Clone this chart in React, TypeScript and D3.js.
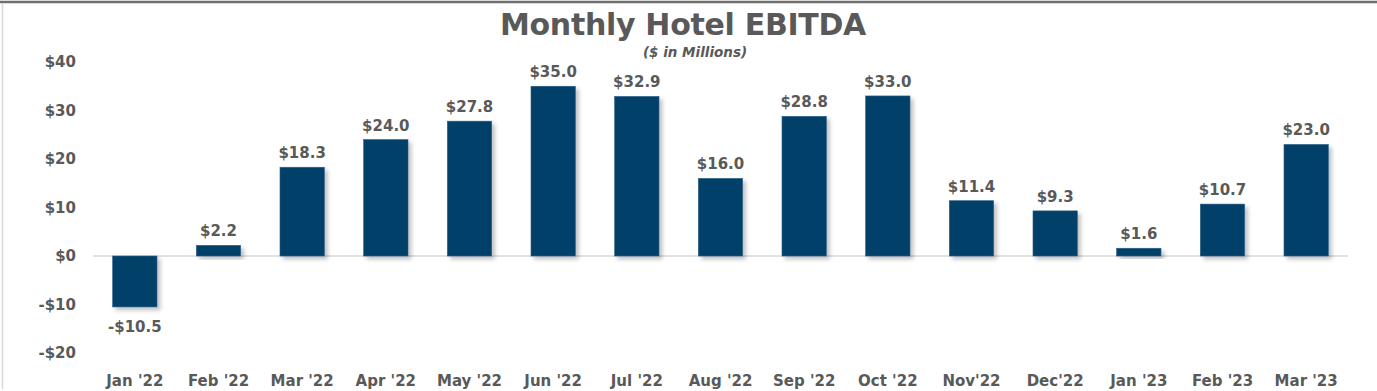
import React from "react";
import * as d3 from "d3";

const categories = ["Jan '22","Feb '22","Mar '22","Apr '22","May '22","Jun '22","Jul '22","Aug '22","Sep '22","Oct '22","Nov'22","Dec'22","Jan '23","Feb '23","Mar '23"];
const values = [-10.5, 2.2, 18.3, 24.0, 27.8, 35.0, 32.9, 16.0, 28.8, 33.0, 11.4, 9.3, 1.6, 10.7, 23.0];
const yTicks = [40, 30, 20, 10, 0, -10, -20];

const W = 1377, H = 391;
const FONT = "'DejaVu Sans', sans-serif";
const TXT = "#595959";
const BAR = "#003F69";

export default function App() {
  const x = d3.scaleBand<string>().domain(categories).range([93, 1348]).paddingInner(0.47).paddingOuter(0.235);
  const y = d3.scaleLinear().domain([-20, 40]).range([353, 62]);
  const fmtTick = (v: number) => (v < 0 ? "-$" + Math.abs(v) : "$" + v);
  const fmtVal = (v: number) => (v < 0 ? "-$" + Math.abs(v).toFixed(1) : "$" + v.toFixed(1));
  return (
    <svg width={W} height={H} style={{ position: "absolute", left: 0, top: 0, background: "#fff" }} fontFamily={FONT}>
      <defs>
        <filter id="sh" x="-20%" y="-20%" width="150%" height="150%">
          <feGaussianBlur in="SourceAlpha" stdDeviation="2" />
          <feOffset dx="3" dy="3" result="b" />
          <feComponentTransfer><feFuncA type="linear" slope="0.25" /></feComponentTransfer>
          <feMerge><feMergeNode /><feMergeNode in="SourceGraphic" /></feMerge>
        </filter>
      </defs>
      <rect x={0} y={0} width={W} height={H} fill="#fff" />
      <line x1={0} x2={W} y1={2} y2={2} stroke="#6e6e6e" strokeWidth={2.5} />
      <line x1={2.5} x2={2.5} y1={3} y2={389} stroke="#d9d9d9" strokeWidth={1.5} />
      <text x={683} y={35} textAnchor="middle" fontSize={30} fontWeight={700} fill={TXT} letterSpacing={-0.3}>Monthly Hotel EBITDA</text>
      <text x={695} y={57} textAnchor="middle" fontSize={13.5} fontWeight={700} fontStyle="italic" fill={TXT}>($ in Millions)</text>
      {yTicks.map((t) => (
        <text key={t} x={76} y={y(t)} dy="0.35em" textAnchor="end" fontSize={15} fontWeight={700} fill={TXT}>{fmtTick(t)}</text>
      ))}
      <line x1={93} x2={1348} y1={y(0)} y2={y(0)} stroke="#d9d9d9" strokeWidth={1.5} />
      {categories.map((c, i) => {
        const v = values[i];
        const bx = x(c)!;
        const bw = x.bandwidth();
        const top = Math.min(y(v), y(0));
        const h = Math.abs(y(v) - y(0));
        const cx = bx + bw / 2;
        const ly = v >= 0 ? y(v) - 9 : y(v) + 25;
        return (
          <g key={c}>
            <rect x={bx} y={top} width={bw} height={h} fill={BAR} stroke="#2a5f88" strokeWidth={0.6} filter="url(#sh)" />
            <text x={cx} y={ly} textAnchor="middle" fontSize={15} fontWeight={700} fill={TXT}>{fmtVal(v)}</text>
            <text x={cx} y={386} textAnchor="middle" fontSize={15} fontWeight={700} fill={TXT}>{c}</text>
          </g>
        );
      })}
    </svg>
  );
}
